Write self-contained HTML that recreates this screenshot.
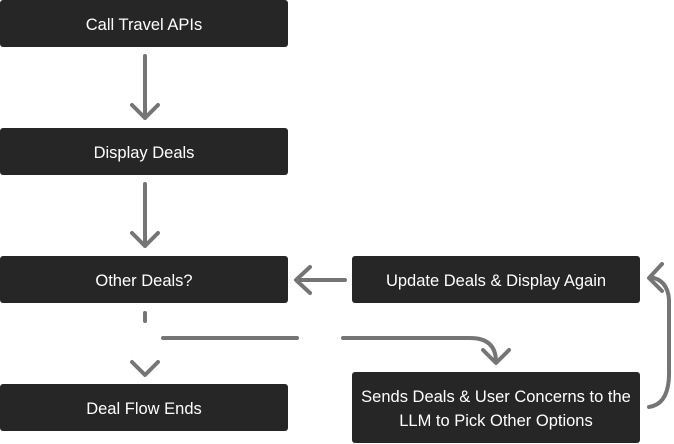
<!DOCTYPE html>
<html><head><style>
body{margin:0;width:674px;height:444px;background:#fff;position:relative;overflow:hidden;font-family:"Liberation Sans",sans-serif;}
.b{position:absolute;background:#262626;color:#fff;border-radius:3px;display:flex;align-items:center;justify-content:center;text-align:center;font-size:16.5px;line-height:24px;padding-top:2px;box-sizing:border-box;}
svg{position:absolute;left:0;top:0}
</style></head><body>
<div class="b" style="left:0;top:0;width:288px;height:47px">Call Travel APIs</div>
<div class="b" style="left:0;top:128px;width:288px;height:47px">Display Deals</div>
<div class="b" style="left:0;top:256px;width:288px;height:47px">Other Deals?</div>
<div class="b" style="left:0;top:384px;width:288px;height:47px">Deal Flow Ends</div>
<div class="b" style="left:352px;top:256px;width:288px;height:47px">Update Deals &amp; Display Again</div>
<div class="b" style="left:352px;top:372px;width:288px;height:71px">Sends Deals &amp; User Concerns to the<br>LLM to Pick Other Options</div>
<svg width="674" height="444" fill="none" stroke="#757575" stroke-width="4" stroke-linecap="round" stroke-linejoin="round">
<path d="M145 56V118M132 105L145 118L158 105"/>
<path d="M145 184V246M132 233L145 246L158 233"/>
<path d="M145 313V321M132 362L145 375L158 362"/>
<path d="M163 338H297"/>
<path d="M343 338H470Q496 338 496 362M483 350L496 363L509 350"/>
<path d="M345 280H297M310 267L296 280L310 293"/>
<path d="M649 407Q670 404 669 370V300Q668 280 650 277M662 264L649 278L662 291"/>
</svg>
</body></html>
